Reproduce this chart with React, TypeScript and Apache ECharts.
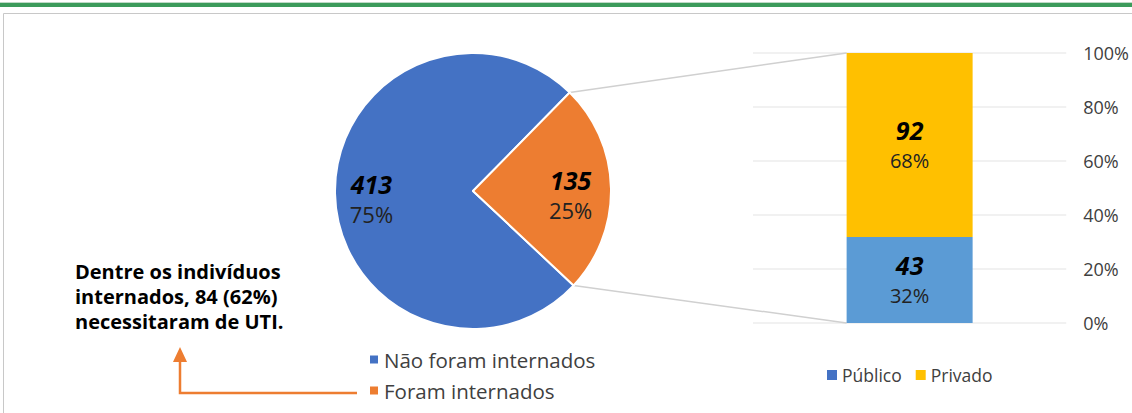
import React, { useEffect, useRef } from "react";
import * as echarts from "echarts";

const pieNames = ["Não foram internados", "Foram internados"];
const pieValues = [413, 135];
const pieColors = ["#4472C4", "#ED7D31"];

const barCategory = ["Internados"];
const barNames = ["Público", "Privado"];
const barCounts = [43, 92];
const barColors = ["#5B9BD5", "#FFC000"];
const legendBarColors = ["#4472C4", "#FFC000"];

const yTicks = [0, 20, 40, 60, 80, 100];

const noteLines = ["Dentre os indivíduos", "internados, 84 (62%)", "necessitaram de UTI."];

const FONT = "'Open Sans', 'Noto Sans', sans-serif";

export default function App() {
  const ref = useRef<HTMLDivElement>(null);
  useEffect(() => {
    if (!ref.current) return;
    const chart = echarts.init(ref.current, null, { renderer: "svg" });
    const pieTotal = pieValues.reduce((a, b) => a + b, 0);
    const barTotal = barCounts.reduce((a, b) => a + b, 0);
    const center = [473, 191];
    const R = 138;
    const startAngle = 45.5;
    const pctLabel = (v: number, t: number) => Math.round((v / t) * 100) + "%";

    const pieData = pieNames.map((n, i) => ({ name: n, value: pieValues[i], itemStyle: { color: pieColors[i] } }));

    const option: any = {
      animation: false,
      textStyle: { fontFamily: FONT },
      legend: [
        {
          data: pieNames.map((n, i) => ({ name: n, itemStyle: { color: pieColors[i] } })),
          orient: "vertical",
          left: 363,
          top: 344,
          itemWidth: 10,
          itemHeight: 10,
          itemGap: 10,
          icon: "rect",
          selectedMode: false,
          textStyle: { fontSize: 20.5, color: "#404040", fontFamily: FONT },
        },
        {
          data: barNames.map((n, i) => ({ name: n, itemStyle: { color: legendBarColors[i] } })),
          orient: "horizontal",
          left: 822,
          top: 361,
          itemWidth: 10,
          itemHeight: 10,
          itemGap: 14,
          icon: "rect",
          selectedMode: false,
          textStyle: { fontSize: 17.5, color: "#404040", fontFamily: FONT },
        },
      ],
      grid: { left: 753, right: 65, top: 53, bottom: 90 },
      xAxis: {
        type: "category",
        data: barCategory,
        show: false,
      },
      yAxis: {
        type: "value",
        position: "right",
        min: 0,
        max: 100,
        interval: 20,
        axisLine: { show: false },
        axisTick: { show: false },
        axisLabel: {
          margin: 17,
          fontSize: 18,
          color: "#404040",
          fontFamily: FONT,
          formatter: (v: number) => (yTicks.includes(v) ? v + "%" : ""),
        },
        splitLine: { lineStyle: { color: "#EDEDED", width: 1.5 } },
      },
      series: [
        {
          type: "pie",
          name: "pie",
          center,
          radius: R,
          startAngle,
          clockwise: false,
          silent: true,
          data: pieData,
          itemStyle: { borderColor: "#fff", borderWidth: 2 },
          label: { show: false },
          labelLine: { show: false },
        },
        {
          type: "pie",
          name: "pieLabels",
          center,
          radius: R * 1.4,
          startAngle,
          clockwise: false,
          silent: true,
          z: 5,
          data: pieNames.map((n, i) => ({ name: n, value: pieValues[i], itemStyle: { color: "rgba(0,0,0,0)" } })),
          label: {
            show: true,
            position: "inside",
            offset: [-2, 6],
            formatter: (p: any) => `{a|${p.value}}\n{b|${pctLabel(p.value, pieTotal)}}`,
            rich: {
              a: { fontSize: 25, fontWeight: "bold", fontStyle: "italic", color: "#000", fontFamily: FONT, lineHeight: 30 },
              b: { fontSize: 22, color: "#222", fontFamily: FONT, lineHeight: 30 },
            },
          },
          labelLine: { show: false },
        },
        ...barNames.map((n, i) => ({
          type: "bar",
          name: n,
          stack: "total",
          barWidth: 126,
          data: [(barCounts[i] / barTotal) * 100],
          itemStyle: { color: barColors[i] },
          label: {
            show: true,
            position: "inside",
            formatter: () => `{a|${barCounts[i]}}\n{b|${pctLabel(barCounts[i], barTotal)}}`,
            rich: {
              a: { fontSize: 25, fontWeight: "bold", fontStyle: "italic", color: "#000", fontFamily: FONT, lineHeight: 30 },
              b: { fontSize: 20, color: "#222", fontFamily: FONT, lineHeight: 30 },
            },
          },
        })),
      ],
    };
    chart.setOption(option);

    const bx = chart.convertToPixel({ xAxisIndex: 0 }, barCategory[0]) as number;
    const yTop = chart.convertToPixel({ yAxisIndex: 0 }, 100) as number;
    const yBot = chart.convertToPixel({ yAxisIndex: 0 }, 0) as number;
    const barLeft = bx - 63;
    const a1 = (startAngle * Math.PI) / 180;
    const a2 = ((startAngle - (pieValues[1] / pieTotal) * 360) * Math.PI) / 180;
    const p1 = [center[0] + R * Math.cos(a1), center[1] - R * Math.sin(a1)];
    const p2 = [center[0] + R * Math.cos(a2), center[1] - R * Math.sin(a2)];

    chart.setOption({
      graphic: [
        { type: "rect", shape: { x: 0, y: 2, width: 1132, height: 1 }, style: { fill: "#BFD9C6" }, silent: true },
        { type: "rect", shape: { x: 0, y: 3, width: 1132, height: 4 }, style: { fill: "#3C9B5B" }, silent: true },
        {
          type: "rect",
          shape: { x: 3.5, y: 13.5, width: 1200, height: 500 },
          style: { fill: "none", stroke: "#C8C8C8", lineWidth: 1 },
          silent: true,
        },
        { type: "line", shape: { x1: p1[0], y1: p1[1], x2: barLeft, y2: yTop }, style: { stroke: "#D0D0D0", lineWidth: 1.5 }, silent: true },
        { type: "line", shape: { x1: p2[0], y1: p2[1], x2: barLeft, y2: yBot }, style: { stroke: "#D0D0D0", lineWidth: 1.5 }, silent: true },
        {
          type: "polyline",
          shape: { points: [[357, 393], [180, 393], [180, 360]] },
          style: { stroke: "#ED7D31", lineWidth: 2.5, fill: "none" },
          silent: true,
        },
        {
          type: "polygon",
          shape: { points: [[180, 347], [173, 362], [187, 362]] },
          style: { fill: "#ED7D31" },
          silent: true,
        },
        {
          type: "text",
          x: 75,
          y: 259,
          style: {
            text: noteLines.join("\n"),
            fontSize: 20,
            fontWeight: "bold",
            fontFamily: FONT,
            fill: "#000",
            lineHeight: 25,
          },
          silent: true,
        },
      ],
    });

    return () => chart.dispose();
  }, []);
  return (
    <div
      ref={ref}
      style={{ position: "fixed", left: 0, top: 0, width: 1132, height: 413, background: "#fff" }}
    />
  );
}
